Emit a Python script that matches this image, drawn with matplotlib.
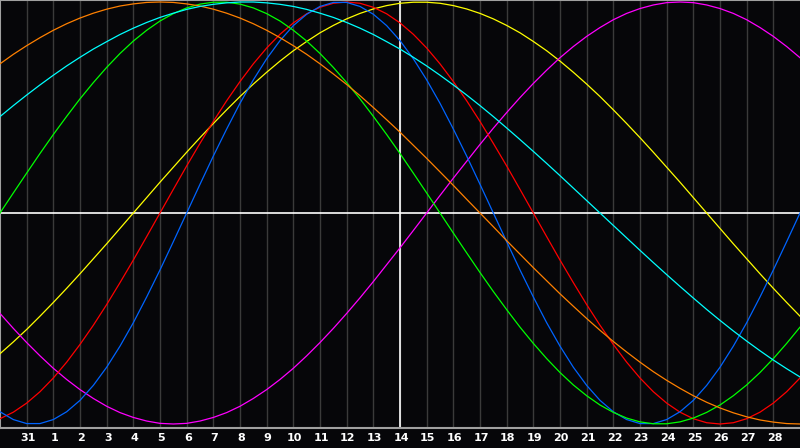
import numpy as np
import matplotlib
matplotlib.use('Agg')
import matplotlib.pyplot as plt

# day offsets in the 30 day window, sampled every half day
offset = np.arange(61) / 2.0
day_labels = ['31'] + [str(d) for d in range(1, 29)]
today_offset = 15  # day 14

# cycle values (x1000)
yellow = [-667,-611,-552,-489,-424,-357,-288,-217,-146,-73,0,73,146,217,288,357,424,489,552,611,667,720,769,813,854,889,920,946,967,983,994,999,999,994,983,967,946,920,889,854,813,769,720,667,611,552,489,424,357,288,217,146,73,0,-73,-146,-217,-288,-357,-424,-489]
magenta = [-476,-547,-614,-677,-736,-789,-837,-879,-916,-946,-969,-986,-997,-1000,-997,-986,-969,-946,-916,-879,-837,-789,-736,-677,-614,-547,-476,-402,-325,-245,-165,-83,0,83,165,245,325,402,476,547,614,677,736,789,837,879,916,946,969,986,997,1000,997,986,969,946,916,879,837,789,736]
red = [-975,-944,-901,-847,-782,-707,-623,-532,-434,-330,-223,-112,0,112,223,330,434,532,623,707,782,847,901,944,975,994,1000,994,975,944,901,847,782,707,623,532,434,330,223,112,0,-112,-223,-330,-434,-532,-623,-707,-782,-847,-901,-944,-975,-994,-1000,-994,-975,-944,-901,-847,-782]
blue = [-942,-979,-998,-998,-979,-942,-888,-817,-731,-631,-520,-398,-270,-136,0,136,270,398,520,631,731,817,888,942,979,998,998,979,942,888,817,731,631,520,398,270,136,0,-136,-270,-398,-520,-631,-731,-817,-888,-942,-979,-998,-998,-979,-942,-888,-817,-731,-631,-520,-398,-270,-136,0]
green = [0,95,189,282,372,458,541,618,690,756,815,866,910,945,972,990,999,999,990,972,945,910,866,815,756,690,618,541,458,372,282,189,95,0,-95,-189,-282,-372,-458,-541,-618,-690,-756,-815,-866,-910,-945,-972,-990,-999,-999,-990,-972,-945,-910,-866,-815,-756,-690,-618,-541]
orange = [707,752,793,831,866,897,924,947,966,981,991,998,1000,998,991,981,966,947,924,897,866,831,793,752,707,659,609,556,500,442,383,321,259,195,131,65,0,-65,-131,-195,-259,-321,-383,-442,-500,-556,-609,-659,-707,-752,-793,-831,-866,-897,-924,-947,-966,-981,-991,-998,-1000]
cyan = [457,509,559,607,653,697,738,777,812,846,876,903,927,947,965,979,989,996,1000,1000,996,989,979,965,947,927,903,876,846,812,777,738,697,653,607,559,509,457,403,348,292,235,177,118,59,0,-59,-118,-177,-235,-292,-348,-403,-457,-509,-559,-607,-653,-697,-738,-777]

series = [
    (yellow, '#ffff00'),
    (magenta, '#ff00ff'),
    (red, '#ff0000'),
    (blue, '#0064ff'),
    (green, '#00ff00'),
    (orange, '#ff8000'),
    (cyan, '#00ffff'),
]

bg = '#060609'
fig = plt.figure(figsize=(8, 4.48), dpi=100, facecolor=bg)
ax = fig.add_axes([0, 20 / 448, 1, 428 / 448], facecolor=bg)

for d in range(1, 30):
    ax.axvline(d, color='#3a3a3a', lw=1, zorder=1)
ax.axhline(0, color='white', lw=1.2, zorder=2)
ax.axvline(today_offset, color='white', lw=1.2, zorder=2)

for vals, col in series:
    ax.plot(offset, np.array(vals) / 1000.0, color=col, lw=0.9, zorder=3)

ax.set_xlim(0, 30)
ax.set_ylim(-1.019, 1.0095)
ax.set_yticks([])
ax.set_xticks(np.arange(1, 30) + 0.04)
ax.set_xticklabels(day_labels, color='white', fontsize=8, fontweight='bold')
ax.tick_params(axis='x', length=0, pad=3.5)

for side in ['left', 'top', 'bottom']:
    ax.spines[side].set_color('#a0a0a0')
    ax.spines[side].set_linewidth(1.5)
ax.spines['right'].set_visible(False)

fig.savefig('out.png', dpi=100, facecolor=fig.get_facecolor())
